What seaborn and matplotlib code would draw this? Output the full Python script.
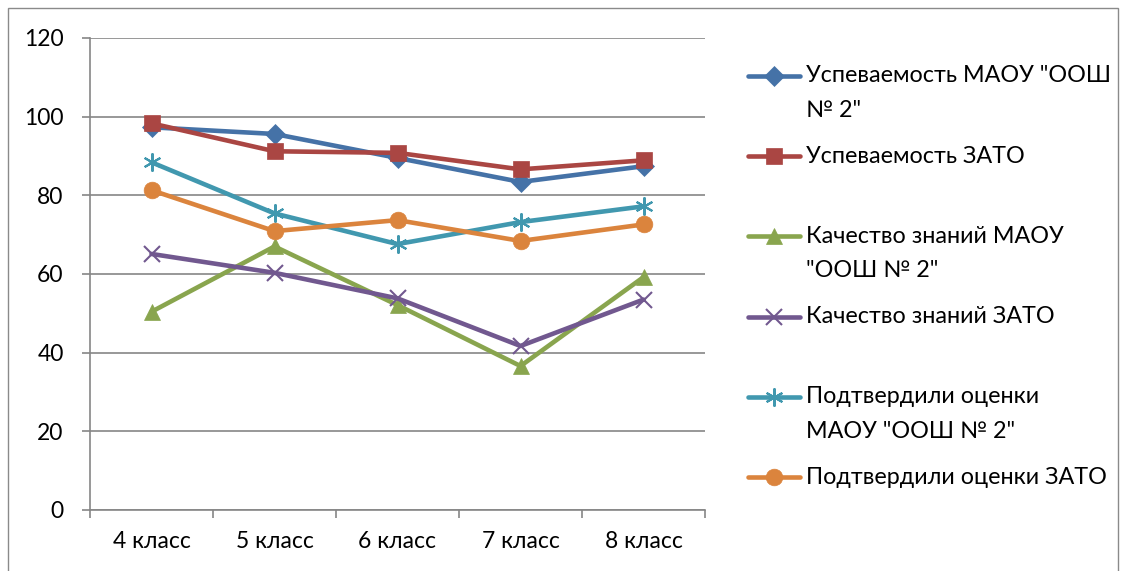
import matplotlib
matplotlib.use("Agg")
import matplotlib.pyplot as plt
from matplotlib.lines import Line2D
from matplotlib.patches import Rectangle
import numpy as np
import pandas as pd
import seaborn as sns

# chart data
classes = ["4 класс", "5 класс", "6 класс", "7 класс", "8 класс"]
uspev_maou = [97.3, 95.6, 89.5, 83.4, 87.4]
uspev_zato = [98.3, 91.2, 90.8, 86.6, 88.9]
kach_maou = [50.4, 67.0, 52.1, 36.6, 59.2]
kach_zato = [65.1, 60.3, 53.8, 41.7, 53.5]
podtv_maou = [88.4, 75.4, 67.6, 73.2, 77.2]
podtv_zato = [81.3, 70.9, 73.7, 68.4, 72.6]

series_names = [
    'Успеваемость МАОУ "ООШ\n№ 2"',
    "Успеваемость ЗАТО",
    'Качество знаний МАОУ\n"ООШ № 2"',
    "Качество знаний ЗАТО",
    'Подтвердили оценки\nМАОУ "ООШ № 2"',
    "Подтвердили оценки ЗАТО",
]
series_values = [uspev_maou, uspev_zato, kach_maou, kach_zato, podtv_maou, podtv_zato]
colors = ["#4572A7", "#AA4643", "#89A54E", "#71588F", "#4198AF", "#DB843D"]
asterisk = (6, 2, 0)
markers = ["D", "s", "^", "x", asterisk, "o"]
msizes = [10.5, 12, 12, 11, 13, 12]

sns.set_theme(style="white")
plt.rcParams["font.family"] = ["Lato", "Open Sans", "DejaVu Sans"]

W, H = 1128, 571
fig = plt.figure(figsize=(W / 100, H / 100), dpi=100)


def fx(x):
    return x / W


def fy(y):
    return 1 - y / H


ax = fig.add_axes([fx(90), fy(510), (705 - 90) / W, (510 - 38) / H])

positions = np.arange(len(classes))
for name, vals, col, mk, ms in zip(series_names, series_values, colors, markers, msizes):
    frame = pd.DataFrame({"pos": positions, "value": vals})
    sns.lineplot(data=frame, x="pos", y="value", ax=ax, color=col, linewidth=3.3,
                 marker=mk, markersize=ms, markeredgecolor=col,
                 markeredgewidth=1.5 if mk in ("x", asterisk) else 0.5,
                 label=None, legend=False)

grid_col = "#868686"
ax.set_xlim(-0.5, len(classes) - 0.5)
ax.set_ylim(0, 120)
ax.set_yticks(range(0, 121, 20))
ax.set_xticks(positions)
ax.set_xticklabels(classes)
ax.set_xticks(np.arange(-0.5, len(classes)), minor=True)
ax.set_xlabel("")
ax.set_ylabel("")
ax.yaxis.grid(True, color=grid_col, linewidth=1.2)
ax.set_axisbelow(True)
for side in ("top", "right"):
    ax.spines[side].set_visible(False)
for side in ("left", "bottom"):
    ax.spines[side].set_color(grid_col)
    ax.spines[side].set_linewidth(1.2)
ax.tick_params(axis="y", which="major", direction="out", length=6, width=1.2,
               color=grid_col, left=True, pad=13, labelsize=16.5, labelcolor="black")
ax.tick_params(axis="x", which="major", length=0, pad=15, labelsize=16.5, labelcolor="black")
ax.tick_params(axis="x", which="minor", direction="out", length=6, width=1.2,
               color=grid_col, bottom=True)

# legend drawn at the right, one slot per series, handle on the first text line
for i, (name, col, mk, ms) in enumerate(zip(series_names, colors, markers, msizes)):
    y0 = 76 + 80.2 * i
    fig.add_artist(Line2D([fx(748), fx(800)], [fy(y0), fy(y0)], transform=fig.transFigure,
                          color=col, linewidth=3.3, solid_capstyle="round"))
    fig.add_artist(Line2D([fx(774)], [fy(y0)], transform=fig.transFigure, color=col,
                          marker=mk, markersize=ms, markeredgecolor=col,
                          markeredgewidth=1.5 if mk in ("x", asterisk) else 0.5))
    for j, line in enumerate(name.split("\n")):
        fig.text(fx(806), fy(y0 + 34.5 * j), line, ha="left", va="center",
                 fontsize=16.8, color="black")

# chart area border
fig.add_artist(Rectangle((fx(8), fy(575)), fx(1118) - fx(8), fy(8) - fy(575),
                         transform=fig.transFigure, fill=False,
                         edgecolor="#8a8a8a", linewidth=1))

fig.savefig("out.png", dpi=100)
